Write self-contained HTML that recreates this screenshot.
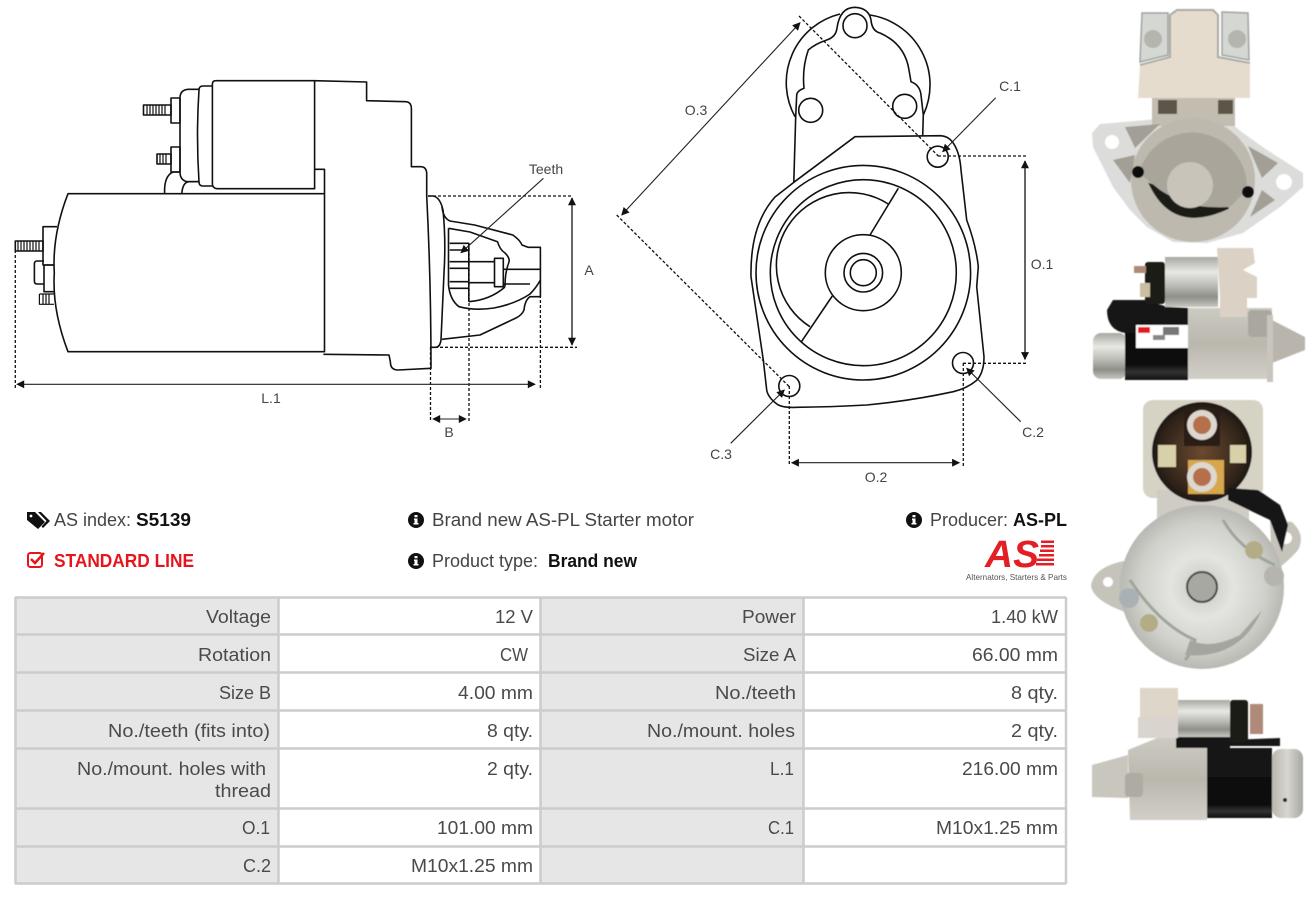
<!DOCTYPE html>
<html><head><meta charset="utf-8"><style>
html,body{margin:0;padding:0;background:#fff;width:1316px;height:898px;overflow:hidden}
svg{display:block;position:absolute;left:0;top:0}
.l{fill:none;stroke:#111;stroke-width:1.6;stroke-linejoin:round}
.d{fill:none;stroke:#111;stroke-width:1.3;stroke-dasharray:3 2}
.a{fill:none;stroke:#222;stroke-width:1.1}
.g{font-family:"Liberation Sans",sans-serif;font-size:14px;fill:#444;text-anchor:middle}
.t{font-family:"Liberation Sans",sans-serif;font-size:18px;fill:#444}
.w{font-size:18.6px;fill:#4a4a4a;text-anchor:end}
.b{font-weight:bold;fill:#111}
</style></head><body>
<svg width="1316" height="898" viewBox="0 0 1316 898" xmlns="http://www.w3.org/2000/svg">
<defs>
<marker id="m" viewBox="0 0 10 10" refX="9" refY="5" markerWidth="9" markerHeight="8" orient="auto-start-reverse" markerUnits="userSpaceOnUse"><path d="M0 0L10 5L0 10Z" fill="#111"/></marker>
<linearGradient id="sv" x1="0" y1="0" x2="0" y2="1"><stop offset="0" stop-color="#a8a8a2"/><stop offset=".3" stop-color="#e8e8e4"/><stop offset=".55" stop-color="#c0c0ba"/><stop offset=".8" stop-color="#8f8f89"/><stop offset="1" stop-color="#c8c8c2"/></linearGradient>
<linearGradient id="bk" x1="0" y1="0" x2="0" y2="1"><stop offset="0" stop-color="#1a1a1a"/><stop offset=".8" stop-color="#0a0a0a"/><stop offset=".9" stop-color="#333"/><stop offset="1" stop-color="#111"/></linearGradient>
<linearGradient id="cs" x1="0" y1="0" x2="0" y2="1"><stop offset="0" stop-color="#cdcac2"/><stop offset=".5" stop-color="#bab7ae"/><stop offset="1" stop-color="#d2cfc8"/></linearGradient>
<linearGradient id="hz" x1="0" y1="0" x2="1" y2="0"><stop offset="0" stop-color="#b8b6ae"/><stop offset=".5" stop-color="#d8d6d0"/><stop offset="1" stop-color="#a8a6a0"/></linearGradient>
<radialGradient id="dk" cx=".5" cy=".5" r=".55"><stop offset="0" stop-color="#6b4a30"/><stop offset=".8" stop-color="#2c2118"/><stop offset="1" stop-color="#0d0d0d"/></radialGradient>
<radialGradient id="zn" cx=".5" cy=".5" r=".55"><stop offset="0" stop-color="#c6c6c2"/><stop offset=".35" stop-color="#e4e4e0"/><stop offset=".7" stop-color="#d0d0cb"/><stop offset="1" stop-color="#aeaea8"/></radialGradient>
<filter id="bl"><feGaussianBlur stdDeviation=".6"/></filter>
</defs>

<!-- side view -->
<g class="l">
<path d="M68 193.7H324.5V351.7H68Q52 310 54.3 273Q52 235 68 193.7Z"/>
<path d="M314.6 80.7L366.6 82V100.7L405.7 101.7Q411.4 102 411.4 109V166.7H421Q426.7 167 426.7 174V196Q431 280 431 368.3L398 370Q390.4 370 390.4 362L389 355L323.4 354.3"/>
<path d="M314.6 169.3H324.5V193.7"/>
<path d="M212.4 84Q212.4 80.7 216 80.7H314.6V188.7H217Q212.4 188 212.4 184Z"/>
<path d="M212.4 86H203Q199 86 199 90Q196 135 199 182Q199 186 203 186H212.4"/>
<path d="M199 89.3H188Q180 90 180 98V172Q180 180 187 181.7H199"/>
<path d="M171 98H180V123H171ZM171 147H180V172H171Z"/>
<path d="M143.5 105H171V115H143.5ZM157 154H171V164H157Z"/>
<path d="M147 105V115M150 105V115M153 105V115M156 105V115M159 105V115M162 105V115M165 105V115M160 154V164M163 154V164M166 154V164" stroke-width="1.2"/>
<path d="M164.6 193Q164 176 173 172H180M181.8 193Q183 182 189 181.7H199"/>
<path d="M57 226.7H43V265H54"/>
<path d="M15.3 241H43V251H15.3Z"/>
<path d="M18 241V251M21 241V251M24 241V251M27 241V251M30 241V251M33 241V251M36 241V251M39 241V251" stroke-width="1.2"/>
<path d="M44 261H37Q34.4 261 34.4 264V281Q34.4 284 37 284H44M44 265H54M44 265V291.7H54"/>
<path d="M39.4 294H54M39.4 294V304.3H54M43 294V304M46 294V304M49 294V304" stroke-width="1.2"/>
<path d="M428 196H433Q440 197 443 210Q446 240 444 273L441 340Q440 347 436 347.3H430.5"/>
<path d="M442 206.7Q443 218 450 221L474.6 225L512.8 235Q520 240 522 245L528 247.3H540.4V296.7H530Q525 300 524 310Q522 315 516 318L480 335L442 339.3"/>
<path d="M448.5 228.3L470 232L497.5 241.7Q500 250 505 253Q510 258 509 262Q505 272 505 286H503"/>
<path d="M448.5 228.3V285Q450 300 459 306.7Q475 311 494 308Q515 304 530 294Q536 288 540.4 280"/>
<path d="M449.7 243.3H468.8V301.7M449.7 250H468.8M449.7 261.7H468.8M449.7 268.3H468.8M449.7 281.7H468.8M449.7 288.3H468.8M468.8 301.7Q490 300 505 287"/>
<path d="M468.8 261.7H495M468.8 282.7H495"/>
<path d="M494.5 258.3H503.3V286.7H494.5Z"/>
<path d="M503.3 269.3H540.4M503.3 284H530"/>
</g>
<g class="d">
<path d="M428 196H572M430 347.3H577M15.3 250V388M540.4 290V388M430.5 347V422M469 243V422"/>
</g>
<g class="a">
<path d="M572 198V345" marker-start="url(#m)" marker-end="url(#m)" style="stroke-width:1.5;stroke:#333"/>
<path d="M17 384.3H535" marker-start="url(#m)" marker-end="url(#m)"/>
<path d="M433 419H466" marker-start="url(#m)" marker-end="url(#m)"/>
<path d="M543.4 178.3L461 252.7" marker-end="url(#m)"/>
</g>
<text class="g" x="546" y="174">Teeth</text>
<text class="g" x="589" y="275">A</text>
<text class="g" x="271" y="403">L.1</text>
<text class="g" x="449" y="437">B</text>

<!-- front view -->
<g class="l">
<path d="M795 116.7A70.7 70.7 0 0 1 840 14M870 15A70.7 70.7 0 0 1 923.3 115"/>
<path d="M793.8 182L795.7 116.7L796.7 95Q797 91 804 88.3Q802 68 808.3 50Q815 44 826.7 40Q836 37 837 28Q840 7.3 855 7.3Q869 8 871 20Q872 31 880 33Q905 44 909 70L911 81.7Q920 85 921 95L923.3 115L922.7 136"/>
<circle cx="855" cy="25.7" r="12"/>
<circle cx="810.7" cy="110.3" r="12"/>
<circle cx="904.7" cy="106.3" r="12"/>
<circle cx="937.7" cy="156.7" r="10.5"/>
<circle cx="963" cy="363" r="10.5"/>
<circle cx="789.3" cy="386" r="10.5"/>
<path d="M793.3 182.7L855 136.7L940 135.7Q950 136 955 146Q960 155 961 170L966.7 220Q976 245 978.3 266.7L976.7 286.7L984 356.7Q984 372 977 380Q968 388 953.3 391.7Q910 401 866.7 405Q830 407 796.7 407.3Q785 408 778.3 405Q768 398 766.7 390L763.3 360L751 276.7Q750 225 775 197Z"/>
<circle cx="863.3" cy="272.7" r="107.3"/>
<circle cx="863.3" cy="272.7" r="93"/>
<path d="M888.3 204A72 72 0 0 0 810 326.7"/>
<circle cx="863.3" cy="272.7" r="38"/>
<circle cx="863.3" cy="272.7" r="19.3"/>
<circle cx="863.3" cy="272.7" r="13"/>
<path d="M898.3 188.3L870 235M832.3 296L801 342.3"/>
</g>
<g class="d">
<path d="M799 16L938.3 156M616.7 215L789.3 386.7M938 156H1028M963 363.3H1028M789.3 386V466M963.3 363V466"/>
</g>
<g class="a">
<path d="M800 22.7L621.7 215" marker-start="url(#m)" marker-end="url(#m)"/>
<path d="M995.7 97.7L942.7 151.7" marker-end="url(#m)"/>
<path d="M1020.7 421.7L966.7 368.3" marker-end="url(#m)"/>
<path d="M730.7 443.3L784.3 390" marker-end="url(#m)"/>
<path d="M1025 161V359.3" marker-start="url(#m)" marker-end="url(#m)" style="stroke-width:1.5;stroke:#333"/>
<path d="M791.7 462.7H959.3" marker-start="url(#m)" marker-end="url(#m)"/>
</g>
<text class="g" x="696" y="115">O.3</text>
<text class="g" x="1010" y="91">C.1</text>
<text class="g" x="1033" y="437">C.2</text>
<text class="g" x="721" y="459">C.3</text>
<text class="g" x="1042" y="269">O.1</text>
<text class="g" x="876" y="482">O.2</text>

<!-- info row -->
<path d="M27 512H35L45 522L38 529L27 520ZM38 512H41L50 521L43 528L41.5 526.5L46.5 521Z" fill="#111"/>
<circle cx="31" cy="516" r="1.4" fill="#fff"/>
<g lengthAdjust="spacingAndGlyphs">
<text class="t" x="54" y="526" textLength="77" lengthAdjust="spacingAndGlyphs">AS index:</text>
<text class="t b" x="136" y="526" textLength="55" lengthAdjust="spacingAndGlyphs">S5139</text>
<text class="t" x="432" y="526" textLength="262" lengthAdjust="spacingAndGlyphs">Brand new AS-PL Starter motor</text>
<text class="t" x="930" y="526" textLength="78" lengthAdjust="spacingAndGlyphs">Producer:</text>
<text class="t b" x="1013" y="526" textLength="54" lengthAdjust="spacingAndGlyphs">AS-PL</text>
<text class="t b" x="54" y="567" textLength="140" lengthAdjust="spacingAndGlyphs" style="fill:#e8141c">STANDARD LINE</text>
<text class="t" x="432" y="567" textLength="106" lengthAdjust="spacingAndGlyphs">Product type:</text>
<text class="t b" x="548" y="567" textLength="89" lengthAdjust="spacingAndGlyphs">Brand new</text>
</g>
<g fill="#111"><circle cx="416" cy="520" r="8"/><circle cx="416" cy="561" r="8"/><circle cx="914" cy="520" r="8"/></g>
<g fill="#fff"><path d="M414.5 515h3v2.2h-3zM414 518.5h3.5v4.5h1v1.5h-5v-1.5h1v-3h-.5z"/><path d="M414.5 556h3v2.2h-3zM414 559.5h3.5v4.5h1v1.5h-5v-1.5h1v-3h-.5z"/><path d="M912.5 515h3v2.2h-3zM912 518.5h3.5v4.5h1v1.5h-5v-1.5h1v-3h-.5z"/></g>
<rect x="28" y="553" width="14" height="14" rx="2.5" fill="none" stroke="#e8141c" stroke-width="2"/>
<path d="M31 559L35 563L44 553" fill="none" stroke="#e8141c" stroke-width="2.5"/>

<!-- logo -->
<text x="985" y="567" font-family="Liberation Sans,sans-serif" font-size="38" font-weight="bold" font-style="italic" fill="#e31e24" textLength="54" lengthAdjust="spacingAndGlyphs">AS</text>
<g fill="#e31e24"><rect x="1041" y="540.5" width="13" height="2.5"/><rect x="1041" y="545" width="13" height="2.5"/><rect x="1040" y="549.5" width="14" height="2.5"/><rect x="1039" y="554" width="15" height="2.5"/><rect x="1037" y="558.5" width="17" height="2.5"/><rect x="1036" y="563" width="18" height="2.5"/></g>
<text x="966" y="580" font-family="Liberation Sans,sans-serif" font-size="8.5" fill="#555" textLength="101" lengthAdjust="spacingAndGlyphs">Alternators, Starters &amp; Parts</text>

<!-- table -->
<g>
<rect x="14.5" y="596.5" width="1052" height="287" fill="#fff"/>
<rect x="15" y="597" width="263" height="286" fill="#e6e6e6"/>
<rect x="541" y="597" width="262" height="286" fill="#e6e6e6"/>
<path d="M15 597.5H1066M15 634.5H1066M15 672.5H1066M15 710.5H1066M15 748.5H1066M15 808.5H1066M15 846.5H1066M15 883.5H1066M15.5 597V884M278.5 597V884M540.5 597V884M803.5 597V884M1066 597V884" stroke="#cccccc" stroke-width="2.5" fill="none"/>
</g>
<g>
<text class="t w" x="271" y="623" textLength="65" lengthAdjust="spacingAndGlyphs">Voltage</text><text class="t w" x="533" y="623" textLength="38" lengthAdjust="spacingAndGlyphs">12 V</text><text class="t w" x="796" y="623" textLength="54" lengthAdjust="spacingAndGlyphs">Power</text><text class="t w" x="1058" y="623" textLength="67" lengthAdjust="spacingAndGlyphs">1.40 kW</text>
<text class="t w" x="271" y="661" textLength="73" lengthAdjust="spacingAndGlyphs">Rotation</text><text class="t w" x="528" y="661" textLength="28" lengthAdjust="spacingAndGlyphs">CW</text><text class="t w" x="796" y="661" textLength="53" lengthAdjust="spacingAndGlyphs">Size A</text><text class="t w" x="1058" y="661" textLength="86" lengthAdjust="spacingAndGlyphs">66.00 mm</text>
<text class="t w" x="271" y="699" textLength="52" lengthAdjust="spacingAndGlyphs">Size B</text><text class="t w" x="533" y="699" textLength="75" lengthAdjust="spacingAndGlyphs">4.00 mm</text><text class="t w" x="796" y="699" textLength="81" lengthAdjust="spacingAndGlyphs">No./teeth</text><text class="t w" x="1058" y="699" textLength="47" lengthAdjust="spacingAndGlyphs">8 qty.</text>
<text class="t w" x="270" y="737" textLength="162" lengthAdjust="spacingAndGlyphs">No./teeth (fits into)</text><text class="t w" x="533" y="737" textLength="46" lengthAdjust="spacingAndGlyphs">8 qty.</text><text class="t w" x="795" y="737" textLength="148" lengthAdjust="spacingAndGlyphs">No./mount. holes</text><text class="t w" x="1058" y="737" textLength="47" lengthAdjust="spacingAndGlyphs">2 qty.</text>
<text class="t w" x="266" y="775" textLength="189" lengthAdjust="spacingAndGlyphs">No./mount. holes with</text><text class="t w" x="271" y="797" textLength="56" lengthAdjust="spacingAndGlyphs">thread</text><text class="t w" x="533" y="775" textLength="46" lengthAdjust="spacingAndGlyphs">2 qty.</text><text class="t w" x="794" y="775" textLength="24" lengthAdjust="spacingAndGlyphs">L.1</text><text class="t w" x="1058" y="775" textLength="96" lengthAdjust="spacingAndGlyphs">216.00 mm</text>
<text class="t w" x="270" y="834" textLength="28" lengthAdjust="spacingAndGlyphs">O.1</text><text class="t w" x="533" y="834" textLength="96" lengthAdjust="spacingAndGlyphs">101.00 mm</text><text class="t w" x="794" y="834" textLength="26" lengthAdjust="spacingAndGlyphs">C.1</text><text class="t w" x="1058" y="834" textLength="122" lengthAdjust="spacingAndGlyphs">M10x1.25 mm</text>
<text class="t w" x="271" y="872" textLength="28" lengthAdjust="spacingAndGlyphs">C.2</text><text class="t w" x="533" y="872" textLength="122" lengthAdjust="spacingAndGlyphs">M10x1.25 mm</text>
</g>

<!-- photo 1 -->
<g filter="url(#bl)">
<path d="M1092 133L1100 124L1147 120L1190 115L1227 120L1243 133L1267 150L1303 173V187L1280 207L1243 233L1207 243L1173 242L1147 227L1130 210L1113 187L1093 147Z" fill="#dcdcda"/>
<rect x="1152" y="98" width="83" height="28" fill="#c2bdb0"/>
<rect x="1158" y="100" width="19" height="14" fill="#5b5448"/><rect x="1218" y="100" width="15" height="14" fill="#5b5448"/>
<path d="M1142 13H1168V55L1140 62ZM1222 12L1248 13L1249 60L1222 55Z" fill="#d5d7d2" stroke="#9ea29d" stroke-width="1.5"/>
<path d="M1138 98L1140 65L1170 57V15L1177 10H1213L1218 15V57L1250 63V98Z" fill="#e6dccd"/>
<path d="M1140 65L1170 57V15L1177 10H1213L1218 15V57L1250 63" fill="none" stroke="#a8aba5" stroke-width="2"/>
<circle cx="1153" cy="39" r="9" fill="#b3b5ae"/><circle cx="1237" cy="39" r="9" fill="#b3b5ae"/>
<circle cx="1193" cy="180" r="62" fill="#bdb9ae"/>
<path d="M1152 186Q1175 232 1228 207Q1190 215 1165 190Z" fill="#1c1a18" stroke="#1c1a18" stroke-width="4"/>
<path d="M1139 173A55 55 0 0 1 1247 190L1230 207Q1190 210 1160 190Z" fill="#a9a59b"/>
<circle cx="1190" cy="185" r="23" fill="#c8c4ba"/>
<circle cx="1138" cy="172" r="6" fill="#0d0d0d"/><circle cx="1248" cy="192" r="6" fill="#0d0d0d"/>
<circle cx="1112" cy="142" r="7" fill="#fff"/><circle cx="1284" cy="182" r="8" fill="#fff"/>
<path d="M1125 127L1160 124L1135 148ZM1113 160L1135 155L1130 183ZM1248 146L1278 163L1262 178ZM1262 190L1275 200L1250 217Z" fill="#a39f96"/>
</g>
<!-- photo 2 -->
<g filter="url(#bl)">
<rect x="1093" y="333" width="34" height="46" rx="8" fill="url(#sv)"/>
<path d="M1107 310L1113 300H1145L1168 307L1188 308V380H1125V333Q1107 330 1107 310Z" fill="url(#bk)"/>
<rect x="1188" y="308" width="84" height="71" fill="url(#cs)"/>
<rect x="1248" y="310" width="24" height="27" rx="4" fill="#aaa79e"/>
<path d="M1272 320L1305 337V350L1272 363Z" fill="#b9b5ac"/>
<rect x="1267" y="315" width="6" height="67" fill="#c8c5bd"/>
<rect x="1136" y="325" width="52" height="23" fill="#fff"/>
<rect x="1138" y="327" width="12" height="6" fill="#e31e24"/>
<rect x="1153" y="335" width="12" height="5" fill="#888"/><rect x="1163" y="327" width="16" height="8" fill="#777"/>
<rect x="1165" y="257" width="53" height="50" fill="url(#sv)"/>
<rect x="1145" y="262" width="20" height="42" rx="3" fill="#1c1a18"/>
<rect x="1134" y="266" width="12" height="7" fill="#b08a78"/><rect x="1140" y="283" width="10" height="14" fill="#c9bda2"/>
<path d="M1217 248H1253L1255 263L1243 270L1257 277V298H1247V317H1220V298Z" fill="#dbd2c5"/>
</g>
<!-- photo 3 -->
<g filter="url(#bl)">
<rect x="1143" y="400" width="120" height="98" rx="10" fill="#d6d2c4"/>
<rect x="1157" y="490" width="92" height="30" fill="#cfccc4"/>
<path d="M1130 560Q1095 565 1091 585Q1092 600 1125 612ZM1270 520L1292 522Q1306 535 1298 550Q1285 565 1272 572Z" fill="#c5c3ba"/>
<circle cx="1202" cy="587" r="82" fill="url(#zn)"/>
<path d="M1130 580Q1160 625 1195 640Q1190 655 1185 660M1223 520Q1240 550 1275 565" fill="none" stroke="#9fa59d" stroke-width="3"/>
<path d="M1185 655Q1240 660 1262 610L1240 635Q1210 650 1190 640Z" fill="#a5a59f"/>
<circle cx="1108" cy="582" r="5" fill="#fff"/><circle cx="1286" cy="538" r="6" fill="#fff"/>
<circle cx="1202" cy="452" r="50" fill="url(#dk)"/>
<rect x="1184" y="410" width="36" height="36" fill="#2a1f18"/>
<circle cx="1202" cy="425" r="15" fill="#dcd8d0"/><circle cx="1202" cy="425" r="9" fill="#b5704c"/>
<rect x="1188" y="460" width="36" height="34" fill="#d6a74e"/>
<circle cx="1202" cy="477" r="15" fill="#dcd8d0"/><circle cx="1202" cy="477" r="9" fill="#b5704c"/>
<rect x="1158" y="445" width="18" height="22" fill="#d8d0a8"/><rect x="1230" y="445" width="16" height="18" fill="#d8d0a8"/>
<path d="M1228 488L1258 490L1280 505L1288 525L1282 552L1270 520L1228 500Z" fill="#151515"/>
<circle cx="1202" cy="587" r="15" fill="#a8a8a2" stroke="#3e4a3c" stroke-width="2"/>
<circle cx="1129" cy="598" r="10" fill="#aab1b5"/><circle cx="1149" cy="623" r="9" fill="#b3ad87"/><circle cx="1254" cy="550" r="9" fill="#b3ad87"/><circle cx="1274" cy="576" r="10" fill="#b5b5ad"/>
</g>
<!-- photo 4 -->
<g filter="url(#bl)">
<path d="M1092 765L1128 755V798L1092 797Z" fill="#c9c6bd"/>
<path d="M1128 750L1157 738H1207V820H1130Z" fill="url(#cs)"/>
<rect x="1125" y="773" width="18" height="24" rx="4" fill="#aeaba2"/>
<rect x="1207" y="748" width="65" height="70" fill="url(#bk)"/>
<rect x="1272" y="749" width="31" height="69" rx="9" fill="url(#hz)"/>
<circle cx="1285" cy="800" r="2" fill="#222"/>
<rect x="1177" y="700" width="53" height="37" fill="url(#sv)"/>
<rect x="1176" y="737" width="54" height="11" fill="#181818"/>
<path d="M1230 740L1280 738V746H1230Z" fill="#181818"/>
<rect x="1230" y="700" width="18" height="42" rx="3" fill="#1c1a18"/>
<rect x="1250" y="704" width="13" height="30" fill="#b08a78"/>
<rect x="1140" y="688" width="38" height="30" fill="#dfd6ca"/>
<rect x="1138" y="717" width="40" height="21" fill="#d9d5ce"/>
</g>
</svg>
</body></html>
